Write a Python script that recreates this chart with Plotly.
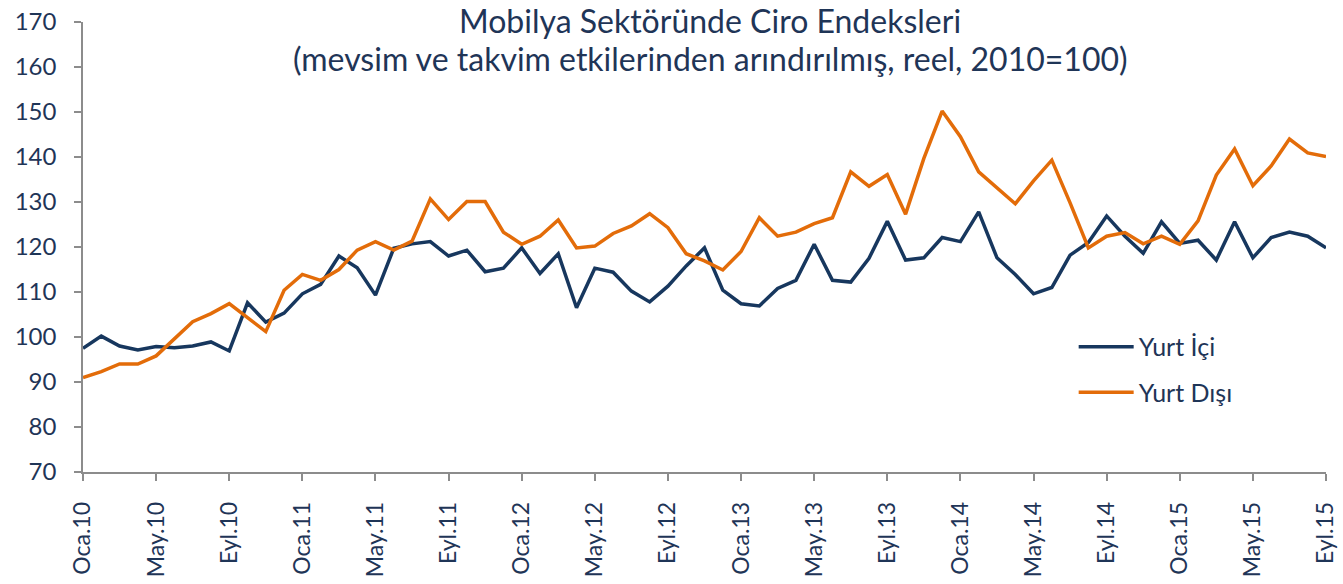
import plotly.graph_objects as go

# Aylık seriler: Oca.10 - Eyl.15
aylar = ["Oca", "Şub", "Mar", "Nis", "May", "Haz", "Tem", "Ağu", "Eyl", "Eki", "Kas", "Ara"]
yillar = ["10", "11", "12", "13", "14", "15"]
donemler = [a + "." + y for y in yillar for a in aylar][:69]

yurt_ici = [97.5, 100.2, 98.0, 97.1, 97.9, 97.6, 98.0, 98.9, 96.9, 107.6, 103.3, 105.3,
            109.6, 111.7, 118.0, 115.4, 109.3, 119.7, 120.7, 121.2, 118.0, 119.3, 114.5, 115.3,
            119.8, 114.1, 118.5, 106.5, 115.3, 114.4, 110.2, 107.8, 111.3, 115.8, 119.8, 110.4,
            107.4, 106.9, 110.8, 112.6, 120.6, 112.6, 112.2, 117.5, 125.7, 117.1, 117.6, 122.1,
            121.2, 127.8, 117.6, 113.9, 109.6, 111.0, 118.2, 121.0, 126.9, 122.4, 118.6, 125.6,
            120.8, 121.5, 117.1, 125.6, 117.6, 122.1, 123.3, 122.4, 119.8]

yurt_disi = [91.0, 92.3, 94.0, 94.0, 95.8, 99.7, 103.4, 105.2, 107.4, 104.3, 101.2, 110.4,
             113.9, 112.6, 115.0, 119.3, 121.2, 119.3, 121.3, 130.7, 126.1, 130.1, 130.1, 123.3,
             120.6, 122.4, 126.0, 119.8, 120.2, 123.0, 124.7, 127.4, 124.3, 118.5, 116.9, 114.9,
             119.0, 126.5, 122.4, 123.3, 125.2, 126.5, 136.7, 133.5, 136.1, 127.3, 139.7, 150.2,
             144.5, 136.7, 133.2, 129.6, 134.7, 139.3, 129.8, 119.8, 122.4, 123.2, 120.7, 122.4,
             120.6, 125.8, 136.0, 141.8, 133.6, 138.0, 144.0, 140.9, 140.1]

tick_etiketleri = ["Oca.10", "May.10", "Eyl.10", "Oca.11", "May.11", "Eyl.11",
                   "Oca.12", "May.12", "Eyl.12", "Oca.13", "May.13", "Eyl.13",
                   "Oca.14", "May.14", "Eyl.14", "Oca.15", "May.15", "Eyl.15"]

baslik1 = "Mobilya Sektöründe Ciro Endeksleri"
baslik2 = "(mevsim ve takvim etkilerinden arındırılmış, reel, 2010=100)"

LACIVERT = "#17375E"
TURUNCU = "#E36C09"
YAZI = "#1F3557"
EKSEN = "#8C8C8C"
FONT = "Lato"

fig = go.Figure()
fig.add_trace(go.Scatter(x=donemler, y=yurt_ici, name="Yurt İçi", mode="lines",
                         line=dict(color=LACIVERT, width=3.5), legendgroup="a"))
fig.add_trace(go.Scatter(x=donemler, y=yurt_disi, name="Yurt Dışı", mode="lines",
                         line=dict(color=TURUNCU, width=3.5), legendgroup="b"))

# başlık: iki satır, ayrı ayrı yerleştirildi
fig.add_annotation(text=baslik1, xref="paper", yref="paper", x=0.5045, y=1.0489,
                   xanchor="center", yanchor="top", showarrow=False, borderpad=0,
                   font=dict(family=FONT, size=32, color=YAZI))
fig.add_annotation(text=baslik2, xref="paper", yref="paper", x=0.5045, y=0.918,
                   xanchor="center", yanchor="middle", showarrow=False,
                   font=dict(family=FONT, size=32, color=YAZI))

fig.update_layout(
    width=1343, height=584,
    margin=dict(l=83, r=17, t=22, b=112),
    paper_bgcolor="white", plot_bgcolor="white",
    font=dict(family=FONT, color=YAZI, size=24),
    legend=dict(x=0.797, y=0.329, xanchor="left", yanchor="top",
                bgcolor="rgba(0,0,0,0)", font=dict(size=25, color=YAZI),
                traceorder="grouped", tracegroupgap=10, itemwidth=55),
    showlegend=True,
)

fig.update_xaxes(
    type="category", range=[0, 68], automargin=False,
    tickmode="array", tickvals=tick_etiketleri, ticktext=tick_etiketleri,
    tickangle=-90, ticks="outside", ticklen=7, tickwidth=1.5, tickcolor=EKSEN,
    ticklabelstandoff=12,
    showline=True, linecolor=EKSEN, linewidth=1.5, showgrid=False, zeroline=False,
    tickfont=dict(size=23, color=YAZI),
)
fig.update_yaxes(
    range=[70, 170], dtick=10, tick0=70, automargin=False,
    ticks="outside", ticklen=7, tickwidth=1.5, tickcolor=EKSEN,
    ticklabelstandoff=13,
    showline=True, linecolor=EKSEN, linewidth=1.5, showgrid=False, zeroline=False,
    tickfont=dict(size=24, color=YAZI),
)

fig.write_html("out.html", config={"displayModeBar": False},
               post_script="document.body.style.margin='0';document.body.style.padding='0';")
